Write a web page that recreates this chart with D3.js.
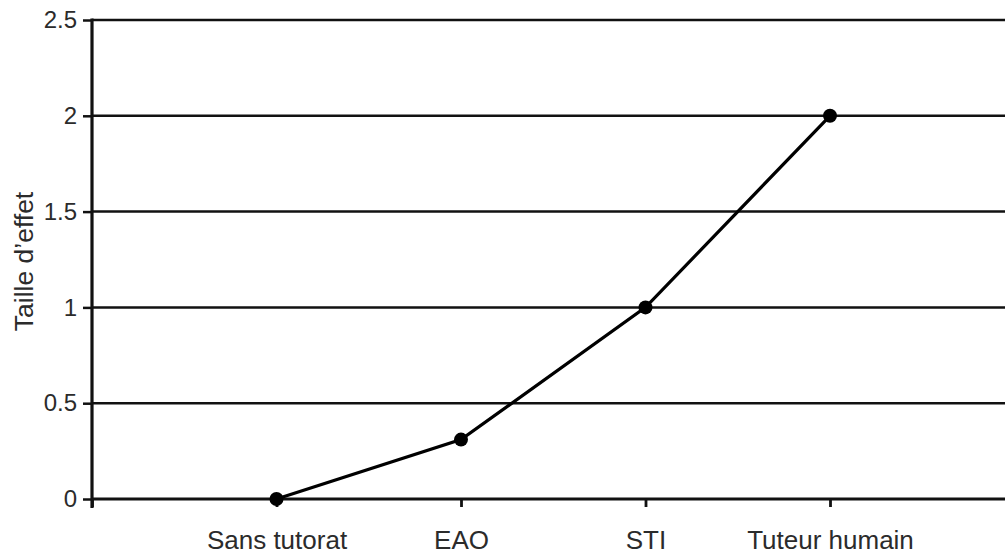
<!DOCTYPE html>
<html><head><meta charset="utf-8">
<script src="https://cdn.jsdelivr.net/npm/d3@7"></script>
<style>body{margin:0;background:#fff}svg{display:block}</style>
</head><body><div id="chart"></div>
<script>
const categories = ["Sans tutorat", "EAO", "STI", "Tuteur humain"];
const values = [0, 0.31, 1, 2];
const yTicks = [0, 0.5, 1, 1.5, 2, 2.5];
const yTickLabels = ["0", "0.5", "1", "1.5", "2", "2.5"];
const yTitle = "Taille d\u2019effet";

const W = 1005, H = 556;
const svg = d3.select("#chart").append("svg").attr("width", W).attr("height", H);
const x0 = 92, x1 = 1014.5, yTop = 20, yBot = 499;
const x = d3.scaleLinear().domain([0, categories.length + 1]).range([x0, x1]);
const y = d3.scaleLinear().domain([0, 2.5]).range([yBot, yTop]);
const font = "Liberation Sans, Arial, sans-serif";
const txt = "#2b2b2b";

// gridlines
svg.append("g").selectAll("line").data(yTicks.filter(d => d > 0)).join("line")
  .attr("x1", x0).attr("x2", W).attr("y1", d => y(d)).attr("y2", d => y(d))
  .attr("stroke", "#111").attr("stroke-width", 2.5);

// y axis
const yAxis = d3.axisLeft(y).tickValues(yTicks).tickFormat((d, i) => yTickLabels[i]).tickSize(9).tickPadding(6);
const gy = svg.append("g").attr("transform", `translate(${x0},0)`).call(yAxis);
gy.select(".domain").remove();
gy.selectAll(".tick line").attr("stroke", "#111").attr("stroke-width", 2.5);
gy.selectAll(".tick text").attr("font-family", font).attr("font-size", 24).attr("fill", txt);
svg.append("line").attr("x1", x0).attr("x2", x0).attr("y1", yTop - 1.5).attr("y2", yBot + 9)
  .attr("stroke", "#111").attr("stroke-width", 3.2);

// x axis
const xTickVals = d3.range(0, categories.length + 2);
const xAxis = d3.axisBottom(x).tickValues(xTickVals).tickFormat(d => (d >= 1 && d <= categories.length) ? categories[d - 1] : "").tickSize(8).tickPadding(0);
const gx = svg.append("g").attr("transform", `translate(0,${yBot})`).call(xAxis);
gx.select(".domain").remove();
gx.selectAll(".tick line").attr("stroke", "#111").attr("stroke-width", 2.8);
gx.selectAll(".tick text").attr("font-family", font).attr("font-size", 26).attr("fill", txt)
  .attr("dy", null).attr("y", 50);
svg.append("line").attr("x1", x0).attr("x2", W).attr("y1", yBot).attr("y2", yBot)
  .attr("stroke", "#111").attr("stroke-width", 3.2);

// y title
svg.append("text").attr("transform", `translate(33,${(yTop + yBot) / 2 + 2}) rotate(-90)`)
  .attr("text-anchor", "middle").attr("font-family", font).attr("font-size", 26.5).attr("fill", txt)
  .text(yTitle);

// line
const data = categories.map((c, i) => ({c, i: i + 1, v: values[i]}));
svg.append("path").datum(data)
  .attr("d", d3.line().x(d => x(d.i)).y(d => y(d.v)))
  .attr("fill", "none").attr("stroke", "#000").attr("stroke-width", 3.2);
svg.append("g").selectAll("circle").data(data).join("circle")
  .attr("cx", d => x(d.i)).attr("cy", d => y(d.v)).attr("r", 7).attr("fill", "#000");
</script></body></html>
